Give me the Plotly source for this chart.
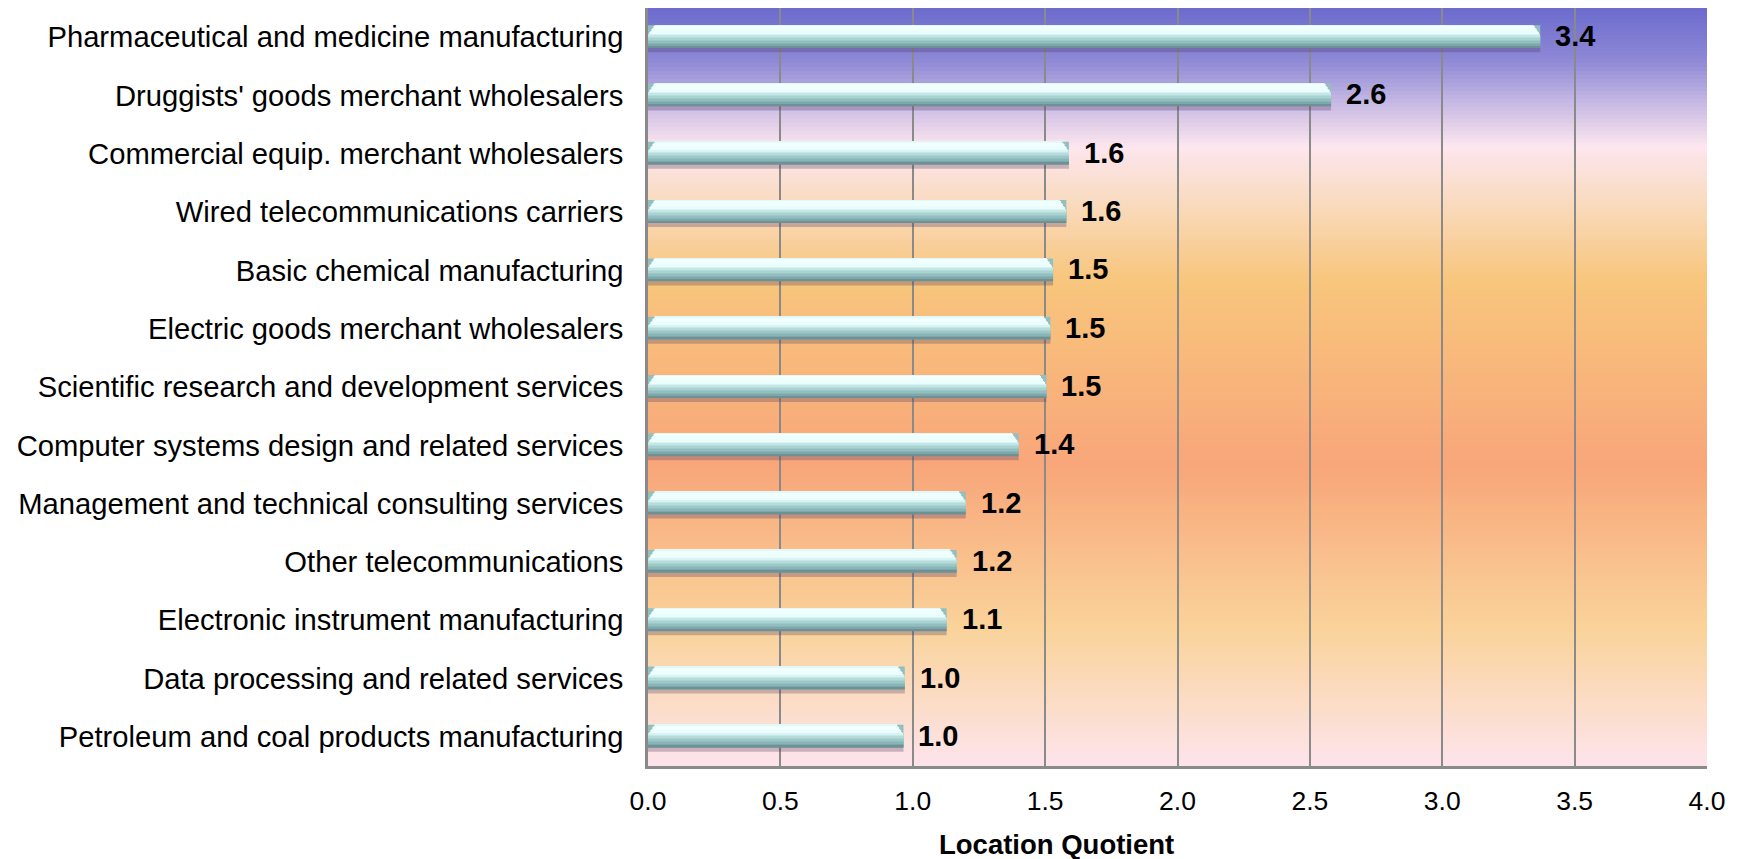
import plotly.graph_objects as go

categories = [
    "Pharmaceutical and medicine manufacturing",
    "Druggists' goods merchant wholesalers",
    "Commercial equip. merchant wholesalers",
    "Wired telecommunications carriers",
    "Basic chemical manufacturing",
    "Electric goods merchant wholesalers",
    "Scientific research and development services",
    "Computer systems design and related services",
    "Management and technical consulting services",
    "Other telecommunications",
    "Electronic instrument manufacturing",
    "Data processing and related services",
    "Petroleum and coal products manufacturing",
]
values = [3.37, 2.58, 1.59, 1.58, 1.53, 1.52, 1.505, 1.40, 1.20, 1.166, 1.128, 0.97, 0.965]
x_ticks = [0.0, 0.5, 1.0, 1.5, 2.0, 2.5, 3.0, 3.5, 4.0]
x_title = "Location Quotient"

FONT = "Liberation Sans, Arial, sans-serif"
# page has an 8px body margin; figure sized to fill the rest of the window
W, H = 1733, 851
ML, MR, MT, MB = 640, 34, 0, 93
plot_w = W - ML - MR
plot_h = H - MT - MB
row_px = plot_h / len(categories)
px_per_unit = plot_w / 4.0

fig = go.Figure()

# background gradient (top -> bottom) via thin shapes
stops = [
    (0.00, (107, 107, 205)),
    (0.07, (142, 136, 214)),
    (0.12, (192, 180, 226)),
    (0.184, (253, 230, 239)),
    (0.25, (249, 220, 196)),
    (0.36, (248, 198, 124)),
    (0.605, (248, 166, 122)),
    (0.82, (250, 211, 154)),
    (1.00, (253, 228, 236)),
]


def interp(stp, t):
    for (t0, c0), (t1, c1) in zip(stp[:-1], stp[1:]):
        if t0 <= t <= t1:
            f = (t - t0) / (t1 - t0) if t1 > t0 else 0
            return tuple(a + (b - a) * f for a, b in zip(c0, c1))
    return stp[-1][1] if t > stp[-1][0] else stp[0][1]


N = 190
shapes = []
for k in range(N):
    t = (k + 0.5) / N
    r, g, b = (int(round(c)) for c in interp(stops, t))
    shapes.append(dict(
        type="rect", xref="paper", yref="paper", x0=0, x1=1,
        y0=1 - (k + 1) / N - 0.001, y1=1 - k / N + 0.001,
        fillcolor=f"rgb({r},{g},{b})", line=dict(width=0), layer="below",
    ))

# shadow under the bars
fig.add_trace(go.Bar(
    x=values, y=categories, orientation="h",
    width=18 / row_px, offset=-3 / row_px,
    marker=dict(color="rgba(80,60,100,0.30)", line=dict(width=0)),
    hoverinfo="skip", showlegend=False,
))

bar_top, bar_bot = -12.0, 10.5

# base colour (visible in the bevelled ends)
fig.add_trace(go.Bar(
    x=values, y=categories, orientation="h",
    width=(bar_bot - bar_top) / row_px, offset=bar_top / row_px,
    marker=dict(color="rgb(146,192,193)", line=dict(width=0)),
    hoverinfo="skip", showlegend=False,
))

# glossy bar: vertical gradient made of thin bands (px from row centre)
bar_stops = [
    (0.00, (208, 240, 240)),
    (0.06, (242, 255, 255)),
    (0.38, (234, 252, 252)),
    (0.52, (190, 226, 226)),
    (0.70, (156, 200, 200)),
    (0.88, (130, 174, 176)),
    (1.00, (100, 134, 140)),
]
NB = 15
bevel_px = 7.0
for j in range(NB):
    f0 = j / NB
    fm = (j + 0.5) / NB
    r, g, b = (int(round(c)) for c in interp(bar_stops, fm))
    top = bar_top + (bar_bot - bar_top) * f0
    h = (bar_bot - bar_top) / NB + 0.4
    # bevelled ends: upper bands are shortened slightly at both ends
    cut = max(0.0, 0.45 - fm) / 0.45 * bevel_px / px_per_unit
    fig.add_trace(go.Bar(
        x=[v - 2 * cut for v in values], base=[cut] * len(values),
        y=categories, orientation="h",
        width=h / row_px, offset=top / row_px,
        marker=dict(color=f"rgb({r},{g},{b})", line=dict(width=0)),
        hoverinfo="skip", showlegend=False,
    ))

annotations = []
for c, v in zip(categories, values):
    annotations.append(dict(
        x=v, y=c, xref="x", yref="y", text=f"<b>{v:.1f}</b>",
        showarrow=False, xanchor="left", yanchor="middle", xshift=13, yshift=1,
        font=dict(family=FONT, size=29, color="#000000"),
    ))
annotations.append(dict(
    x=(1048 - ML) / plot_w, y=-(836 - (H - MB)) / plot_h,
    xref="paper", yref="paper", text=f"<b>{x_title}</b>", showarrow=False,
    xanchor="center", yanchor="middle",
    font=dict(family=FONT, size=27.5, color="#000000"),
))

fig.update_layout(
    width=W, height=H,
    margin=dict(l=ML, r=MR, t=MT, b=MB, pad=0),
    barmode="overlay",
    paper_bgcolor="#ffffff",
    plot_bgcolor="rgba(0,0,0,0)",
    shapes=shapes,
    annotations=annotations,
    hovermode=False,
    showlegend=False,
    xaxis=dict(
        range=[0, 4.0], tickvals=x_ticks, ticktext=[f"{t:.1f}" for t in x_ticks],
        showgrid=True, gridcolor="#8a8a8a", gridwidth=1.5,
        showline=True, linecolor="#8a8a8a", linewidth=2.5,
        zeroline=False, ticks="", ticklabelstandoff=9,
        tickfont=dict(family=FONT, size=26.5, color="#000000"),
        fixedrange=True,
    ),
    yaxis=dict(
        autorange="reversed", showgrid=False,
        showline=True, linecolor="#8a8a8a", linewidth=2.5,
        ticks="", ticklabelstandoff=16,
        tickfont=dict(family=FONT, size=29.2, color="#000000"),
        fixedrange=True,
    ),
)

fig.write_html("out.html")
